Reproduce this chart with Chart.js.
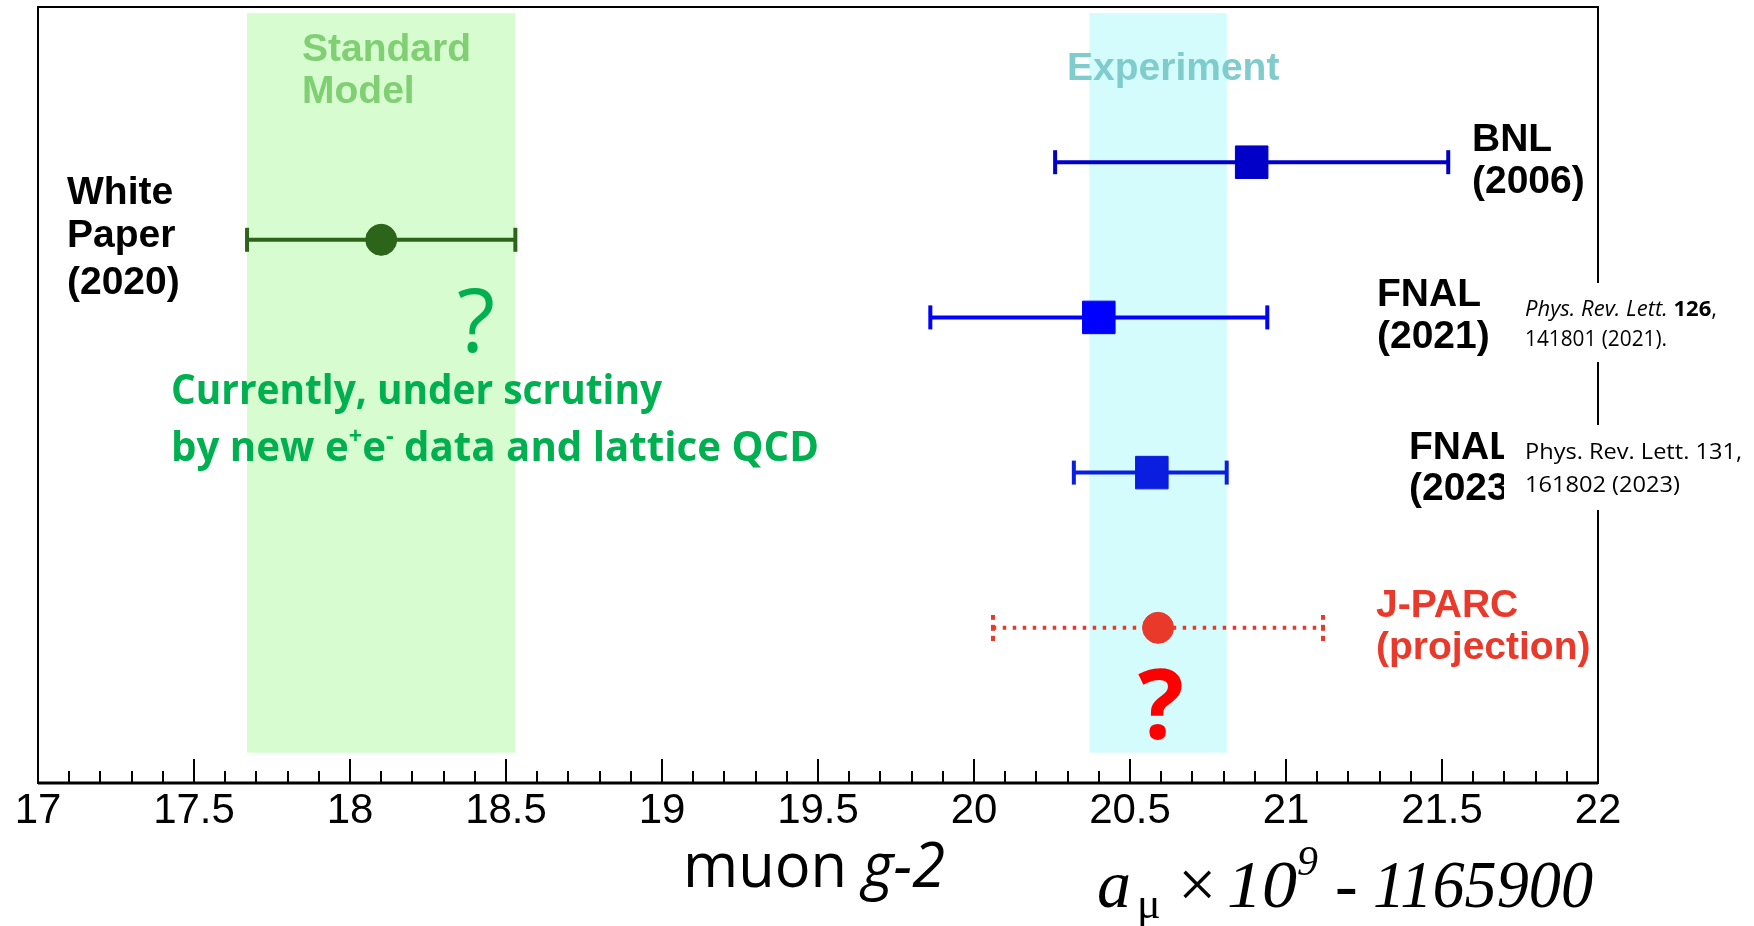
<!DOCTYPE html>
<html>
<head>
<meta charset="utf-8">
<script src="https://cdn.jsdelivr.net/npm/chart.js@4.4.0/dist/chart.umd.min.js"></script>
<style>
  html, body { margin: 0; padding: 0; background: #fff; }
</style>
</head>
<body>
<canvas id="chart" width="1754" height="926"></canvas>
<script>
// a_mu x 10^9 - 1165900, one row per result
var names = ['BNL (2006)', 'White Paper (2020)', 'FNAL (2021)', 'FNAL (2023)', 'J-PARC (projection)'];
var centers = [20.89, 18.10, 20.40, 20.57, 20.59];
var lows = [20.26, 17.67, 19.86, 20.32, 20.06];
var highs = [21.52, 18.53, 20.94, 20.81, 21.12];
var rows = [80, 70, 60, 40, 20];

var smBand = [17.67, 18.53];
var expBand = [20.37, 20.81];

var xTicks = [17, 17.5, 18, 18.5, 19, 19.5, 20, 20.5, 21, 21.5, 22];

var colors = ['#0000c8', '#2c6419', '#0000ff', '#0a1ee0', '#e8392a'];
var markers = ['rect', 'circle', 'rect', 'rect', 'circle'];

// dotted end cap for the projected result
var dottedCap = document.createElement('canvas');
dottedCap.width = 4;
dottedCap.height = 26;
(function() {
  var c = dottedCap.getContext('2d');
  c.fillStyle = colors[4];
  c.fillRect(0, 0, 4, 5);
  c.fillRect(0, 10, 4, 6);
  c.fillRect(0, 21, 4, 5);
})();

var datasets = names.map(function(name, i) {
  var cap = i === 4 ? dottedCap : 'line';
  var rot = i === 4 ? 0 : 90;
  var r = markers[i] === 'rect' ? 23 : 15.5;
  return {
    label: name,
    data: [
      {x: lows[i], y: rows[i]},
      {x: centers[i], y: rows[i]},
      {x: highs[i], y: rows[i]}
    ],
    showLine: true,
    borderColor: colors[i],
    borderWidth: 4,
    borderDash: i === 4 ? [3.5, 6.5] : [],
    pointStyle: [cap, markers[i], cap],
    pointRotation: [rot, 0, rot],
    pointRadius: [12, r, 12],
    pointBorderWidth: [4, 1, 4],
    pointBackgroundColor: colors[i],
    pointBorderColor: colors[i]
  };
});

function put(ctx, text, x, y, font, color, align) {
  ctx.font = font;
  ctx.fillStyle = color;
  ctx.textAlign = align || 'left';
  ctx.fillText(text, x, y);
}

// draw a row of differently styled pieces, squeezed to a given width
function runs(ctx, parts, x, y, width, color) {
  var total = 0;
  parts.forEach(function(p) { ctx.font = p[1]; total += ctx.measureText(p[0]).width; });
  var k = width ? width / total : 1;
  ctx.save();
  ctx.fillStyle = color;
  ctx.textAlign = 'left';
  ctx.translate(x, y);
  ctx.scale(k, 1);
  var cx = 0;
  parts.forEach(function(p) {
    ctx.font = p[1];
    ctx.fillText(p[0], cx, p[2] || 0);
    cx += ctx.measureText(p[0]).width;
  });
  ctx.restore();
}

var bands = {
  id: 'bands',
  beforeDatasetsDraw: function(chart) {
    var ctx = chart.ctx, xs = chart.scales.x, ys = chart.scales.y;
    var top = ys.getPixelForValue(99.2), bottom = ys.getPixelForValue(3.9);
    ctx.save();
    ctx.fillStyle = '#d6fcd0';
    ctx.fillRect(xs.getPixelForValue(smBand[0]), top,
      xs.getPixelForValue(smBand[1]) - xs.getPixelForValue(smBand[0]), bottom - top);
    ctx.fillStyle = '#d4fcfc';
    ctx.fillRect(xs.getPixelForValue(expBand[0]), top,
      xs.getPixelForValue(expBand[1]) - xs.getPixelForValue(expBand[0]), bottom - top);

    ctx.textBaseline = 'middle';
    put(ctx, 'Standard', 302, 50, 'bold 39px "Liberation Sans"', '#80cf73');
    put(ctx, 'Model', 302, 92, 'bold 39px "Liberation Sans"', '#80cf73');
    put(ctx, 'Experiment', 1067, 69, 'bold 39px "Liberation Sans"', '#80cccc');
    ctx.restore();
  }
};

var frame = {
  id: 'frame',
  afterDatasetsDraw: function(chart) {
    var ctx = chart.ctx, a = chart.chartArea, xs = chart.scales.x;
    ctx.save();
    ctx.strokeStyle = '#000';
    ctx.lineWidth = 2;
    ctx.strokeRect(a.left, a.top, a.right - a.left, a.bottom - a.top);
    ctx.lineWidth = 3;
    ctx.beginPath();
    ctx.moveTo(a.left, a.bottom);
    ctx.lineTo(a.right, a.bottom);
    ctx.stroke();
    // inward ticks, long every 0.5, short every 0.1
    ctx.lineWidth = 2;
    for (var k = 0; k <= 50; k++) {
      var px = Math.round(xs.getPixelForValue(17 + k * 0.1));
      var len = k % 5 === 0 ? 24 : 12;
      ctx.beginPath();
      ctx.moveTo(px, a.bottom);
      ctx.lineTo(px, a.bottom - len);
      ctx.stroke();
    }
    ctx.restore();
  }
};

var notes = {
  id: 'notes',
  afterDraw: function(chart) {
    var ctx = chart.ctx;
    var bold = 'bold 39px "Liberation Sans"';
    ctx.save();
    ctx.textBaseline = 'middle';

    put(ctx, 'BNL', 1472, 140, bold, '#000');
    put(ctx, '(2006)', 1472, 182, bold, '#000');
    put(ctx, 'White', 67, 193, bold, '#000');
    put(ctx, 'Paper', 67, 236, bold, '#000');
    put(ctx, '(2020)', 67, 283, bold, '#000');
    put(ctx, 'FNAL', 1377, 295, bold, '#000');
    put(ctx, '(2021)', 1377, 337, bold, '#000');
    put(ctx, 'FNAL', 1409, 448, bold, '#000');
    put(ctx, '(2023)', 1409, 489, bold, '#000');
    put(ctx, 'J-PARC', 1376, 606, bold, '#e8392a');
    put(ctx, '(projection)', 1376, 648, bold, '#e8392a');

    // reference boxes sit on top of the frame
    ctx.fillStyle = '#fff';
    ctx.fillRect(1510, 283, 244, 79);
    ctx.fillRect(1504, 425, 250, 85);

    var cite = '22px "Open Sans"';
    runs(ctx, [
      ['Phys. Rev. Lett.', 'italic ' + cite],
      [' ', cite],
      ['126', 'bold ' + cite],
      [',', cite]
    ], 1525, 310, 192, '#000');
    runs(ctx, [['141801 (2021).', cite]], 1525, 340, 142, '#000');
    runs(ctx, [['Phys. Rev. Lett. 131,', cite]], 1525, 453, 217, '#000');
    runs(ctx, [['161802 (2023)', cite]], 1525, 486, 155, '#000');

    var green = '#00b050';
    var gb = 'bold 41px "Open Sans"';
    runs(ctx, [['Currently, under scrutiny', gb]], 171, 392, 491, green);
    runs(ctx, [
      ['by new e', gb],
      ['+', 'bold 24px "Open Sans"', -12],
      ['e', gb],
      ['-', 'bold 24px "Open Sans"', -12],
      [' data and lattice QCD', gb]
    ], 171, 449, 648, green);

    put(ctx, '?', 476, 327, '500 88px "Open Sans"', green, 'center');
    put(ctx, '?', 1161, 712, 'bold 96px "Open Sans"', '#ff0000', 'center');

    // axis titles
    ctx.textBaseline = 'alphabetic';
    runs(ctx, [
      ['muon ', '62px "Open Sans"'],
      ['g-2', 'italic 62px "Open Sans"']
    ], 683, 887, 262, '#000');

    var serif = '"Liberation Serif"';
    put(ctx, 'a', 1097, 907, 'italic 68px ' + serif, '#000');
    put(ctx, '\u03bc', 1137, 918, '44px ' + serif, '#000');
    put(ctx, '\u00d7', 1178, 907, '68px ' + serif, '#000');
    runs(ctx, [['10', 'italic 68px ' + serif]], 1227, 907, 70, '#000');
    put(ctx, '9', 1297, 875, 'italic 42px ' + serif, '#000');
    put(ctx, '-', 1335, 907, 'italic 68px ' + serif, '#000');
    runs(ctx, [['1165900', 'italic 68px ' + serif]], 1373, 907, 220, '#000');
    ctx.restore();
  }
};

new Chart(document.getElementById('chart'), {
  type: 'scatter',
  data: { datasets: datasets },
  options: {
    responsive: false,
    devicePixelRatio: 1,
    animation: false,
    events: [],
    layout: { autoPadding: false, padding: { left: 38, right: 156, top: 7, bottom: 0 } },
    plugins: { legend: { display: false }, tooltip: { enabled: false } },
    scales: {
      x: {
        type: 'linear',
        min: 17,
        max: 22,
        afterBuildTicks: function(s) {
          s.ticks = xTicks.map(function(v) { return {value: v}; });
        },
        afterFit: function(s) { s.height = 143; },
        grid: { display: false, drawTicks: false },
        border: { display: false },
        ticks: {
          color: '#000',
          padding: 3,
          maxRotation: 0,
          autoSkip: false,
          font: { family: 'Liberation Sans', size: 42 },
          callback: function(v) { return String(v); }
        }
      },
      y: { type: 'linear', min: 0, max: 100, display: false }
    }
  },
  plugins: [bands, frame, notes]
});
</script>
</body>
</html>
